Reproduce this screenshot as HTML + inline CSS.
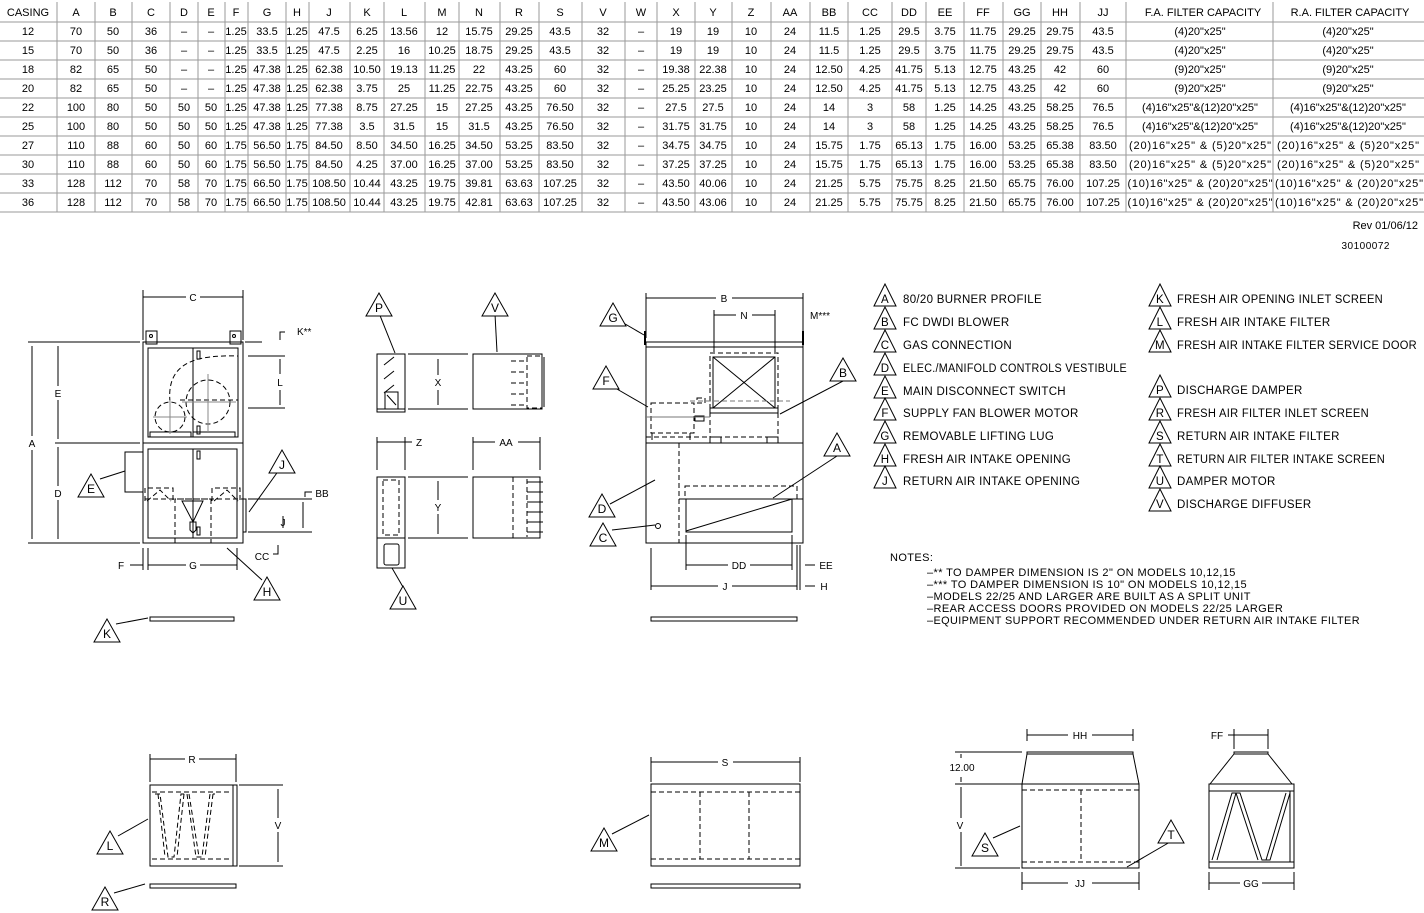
<!DOCTYPE html>
<html><head><meta charset="utf-8"><style>
html,body{margin:0;padding:0;background:#fff}
svg{display:block}
text{font-family:"Liberation Sans",sans-serif;fill:#000}
.t text{font-size:11px;text-anchor:middle}
.lg text{font-size:11.5px;letter-spacing:0.3px}
.nt text{font-size:11px;letter-spacing:0.4px}
.d{stroke-dasharray:5 3}
.lab{font-size:10px;text-anchor:middle}
</style></head><body>
<svg width="1424" height="913" viewBox="0 0 1424 913" xmlns="http://www.w3.org/2000/svg">
<defs>
<g id="tri"><polygon points="0,-13 -13,10 13,10" fill="#fff" stroke="#000" stroke-width="1"/></g>
<g id="trs"><polygon points="0,-12 -11,10 11,10" fill="#fff" stroke="#000" stroke-width="1"/></g>
</defs>
<!-- TABLE GRID -->
<g stroke="#9a9a9a" stroke-width="1">
<line x1="0" y1="22" x2="1424" y2="22"/><line x1="0" y1="41" x2="1424" y2="41"/><line x1="0" y1="60" x2="1424" y2="60"/><line x1="0" y1="79" x2="1424" y2="79"/><line x1="0" y1="98" x2="1424" y2="98"/><line x1="0" y1="117" x2="1424" y2="117"/><line x1="0" y1="136" x2="1424" y2="136"/><line x1="0" y1="155" x2="1424" y2="155"/><line x1="0" y1="174" x2="1424" y2="174"/><line x1="0" y1="193" x2="1424" y2="193"/><line x1="0" y1="212" x2="1424" y2="212"/>
</g>
<g stroke="#9a9a9a" stroke-width="1">
<line x1="57" y1="2" x2="57" y2="212"/><line x1="95" y1="2" x2="95" y2="212"/><line x1="132" y1="2" x2="132" y2="212"/><line x1="170" y1="2" x2="170" y2="212"/><line x1="198" y1="2" x2="198" y2="212"/><line x1="225" y1="2" x2="225" y2="212"/><line x1="248" y1="2" x2="248" y2="212"/><line x1="286" y1="2" x2="286" y2="212"/><line x1="309" y1="2" x2="309" y2="212"/><line x1="350" y1="2" x2="350" y2="212"/><line x1="384" y1="2" x2="384" y2="212"/><line x1="425" y1="2" x2="425" y2="212"/><line x1="459" y1="2" x2="459" y2="212"/><line x1="500" y1="2" x2="500" y2="212"/><line x1="539" y1="2" x2="539" y2="212"/><line x1="582" y1="2" x2="582" y2="212"/><line x1="625" y1="2" x2="625" y2="212"/><line x1="657" y1="2" x2="657" y2="212"/><line x1="695" y1="2" x2="695" y2="212"/><line x1="732" y1="2" x2="732" y2="212"/><line x1="771" y1="2" x2="771" y2="212"/><line x1="810" y1="2" x2="810" y2="212"/><line x1="848" y1="2" x2="848" y2="212"/><line x1="892" y1="2" x2="892" y2="212"/><line x1="926" y1="2" x2="926" y2="212"/><line x1="964" y1="2" x2="964" y2="212"/><line x1="1003" y1="2" x2="1003" y2="212"/><line x1="1041" y1="2" x2="1041" y2="212"/><line x1="1080" y1="2" x2="1080" y2="212"/><line x1="1126" y1="2" x2="1126" y2="212"/><line x1="1273" y1="2" x2="1273" y2="212"/>
</g>
<g class="t">
<text x="28" y="16">CASING</text><text x="76" y="16">A</text><text x="113" y="16">B</text><text x="151" y="16">C</text><text x="184" y="16">D</text><text x="211" y="16">E</text><text x="236" y="16">F</text><text x="267" y="16">G</text><text x="297" y="16">H</text><text x="329" y="16">J</text><text x="367" y="16">K</text><text x="404" y="16">L</text><text x="442" y="16">M</text><text x="479" y="16">N</text><text x="519" y="16">R</text><text x="560" y="16">S</text><text x="603" y="16">V</text><text x="641" y="16">W</text><text x="676" y="16">X</text><text x="713" y="16">Y</text><text x="751" y="16">Z</text><text x="790" y="16">AA</text><text x="829" y="16">BB</text><text x="870" y="16">CC</text><text x="909" y="16">DD</text><text x="945" y="16">EE</text><text x="983" y="16">FF</text><text x="1022" y="16">GG</text><text x="1060" y="16">HH</text><text x="1103" y="16">JJ</text><text x="1203" y="16">F.A.  FILTER  CAPACITY</text><text x="1350" y="16">R.A.  FILTER  CAPACITY</text>

<text x="28" y="35">12</text><text x="76" y="35">70</text><text x="113" y="35">50</text><text x="151" y="35">36</text><text x="184" y="35">–</text><text x="211" y="35">–</text><text x="236" y="35">1.25</text><text x="267" y="35">33.5</text><text x="297" y="35">1.25</text><text x="329" y="35">47.5</text><text x="367" y="35">6.25</text><text x="404" y="35">13.56</text><text x="442" y="35">12</text><text x="479" y="35">15.75</text><text x="519" y="35">29.25</text><text x="560" y="35">43.5</text><text x="603" y="35">32</text><text x="641" y="35">–</text><text x="676" y="35">19</text><text x="713" y="35">19</text><text x="751" y="35">10</text><text x="790" y="35">24</text><text x="829" y="35">11.5</text><text x="870" y="35">1.25</text><text x="909" y="35">29.5</text><text x="945" y="35">3.75</text><text x="983" y="35">11.75</text><text x="1022" y="35">29.25</text><text x="1060" y="35">29.75</text><text x="1103" y="35">43.5</text><text x="1200" y="35">(4)20"x25"</text><text x="1348" y="35">(4)20"x25"</text>

<text x="28" y="54">15</text><text x="76" y="54">70</text><text x="113" y="54">50</text><text x="151" y="54">36</text><text x="184" y="54">–</text><text x="211" y="54">–</text><text x="236" y="54">1.25</text><text x="267" y="54">33.5</text><text x="297" y="54">1.25</text><text x="329" y="54">47.5</text><text x="367" y="54">2.25</text><text x="404" y="54">16</text><text x="442" y="54">10.25</text><text x="479" y="54">18.75</text><text x="519" y="54">29.25</text><text x="560" y="54">43.5</text><text x="603" y="54">32</text><text x="641" y="54">–</text><text x="676" y="54">19</text><text x="713" y="54">19</text><text x="751" y="54">10</text><text x="790" y="54">24</text><text x="829" y="54">11.5</text><text x="870" y="54">1.25</text><text x="909" y="54">29.5</text><text x="945" y="54">3.75</text><text x="983" y="54">11.75</text><text x="1022" y="54">29.25</text><text x="1060" y="54">29.75</text><text x="1103" y="54">43.5</text><text x="1200" y="54">(4)20"x25"</text><text x="1348" y="54">(4)20"x25"</text>

<text x="28" y="73">18</text><text x="76" y="73">82</text><text x="113" y="73">65</text><text x="151" y="73">50</text><text x="184" y="73">–</text><text x="211" y="73">–</text><text x="236" y="73">1.25</text><text x="267" y="73">47.38</text><text x="297" y="73">1.25</text><text x="329" y="73">62.38</text><text x="367" y="73">10.50</text><text x="404" y="73">19.13</text><text x="442" y="73">11.25</text><text x="479" y="73">22</text><text x="519" y="73">43.25</text><text x="560" y="73">60</text><text x="603" y="73">32</text><text x="641" y="73">–</text><text x="676" y="73">19.38</text><text x="713" y="73">22.38</text><text x="751" y="73">10</text><text x="790" y="73">24</text><text x="829" y="73">12.50</text><text x="870" y="73">4.25</text><text x="909" y="73">41.75</text><text x="945" y="73">5.13</text><text x="983" y="73">12.75</text><text x="1022" y="73">43.25</text><text x="1060" y="73">42</text><text x="1103" y="73">60</text><text x="1200" y="73">(9)20"x25"</text><text x="1348" y="73">(9)20"x25"</text>

<text x="28" y="92">20</text><text x="76" y="92">82</text><text x="113" y="92">65</text><text x="151" y="92">50</text><text x="184" y="92">–</text><text x="211" y="92">–</text><text x="236" y="92">1.25</text><text x="267" y="92">47.38</text><text x="297" y="92">1.25</text><text x="329" y="92">62.38</text><text x="367" y="92">3.75</text><text x="404" y="92">25</text><text x="442" y="92">11.25</text><text x="479" y="92">22.75</text><text x="519" y="92">43.25</text><text x="560" y="92">60</text><text x="603" y="92">32</text><text x="641" y="92">–</text><text x="676" y="92">25.25</text><text x="713" y="92">23.25</text><text x="751" y="92">10</text><text x="790" y="92">24</text><text x="829" y="92">12.50</text><text x="870" y="92">4.25</text><text x="909" y="92">41.75</text><text x="945" y="92">5.13</text><text x="983" y="92">12.75</text><text x="1022" y="92">43.25</text><text x="1060" y="92">42</text><text x="1103" y="92">60</text><text x="1200" y="92">(9)20"x25"</text><text x="1348" y="92">(9)20"x25"</text>

<text x="28" y="111">22</text><text x="76" y="111">100</text><text x="113" y="111">80</text><text x="151" y="111">50</text><text x="184" y="111">50</text><text x="211" y="111">50</text><text x="236" y="111">1.25</text><text x="267" y="111">47.38</text><text x="297" y="111">1.25</text><text x="329" y="111">77.38</text><text x="367" y="111">8.75</text><text x="404" y="111">27.25</text><text x="442" y="111">15</text><text x="479" y="111">27.25</text><text x="519" y="111">43.25</text><text x="560" y="111">76.50</text><text x="603" y="111">32</text><text x="641" y="111">–</text><text x="676" y="111">27.5</text><text x="713" y="111">27.5</text><text x="751" y="111">10</text><text x="790" y="111">24</text><text x="829" y="111">14</text><text x="870" y="111">3</text><text x="909" y="111">58</text><text x="945" y="111">1.25</text><text x="983" y="111">14.25</text><text x="1022" y="111">43.25</text><text x="1060" y="111">58.25</text><text x="1103" y="111">76.5</text><text x="1200" y="111">(4)16"x25"&amp;(12)20"x25"</text><text x="1348" y="111">(4)16"x25"&amp;(12)20"x25"</text>

<text x="28" y="130">25</text><text x="76" y="130">100</text><text x="113" y="130">80</text><text x="151" y="130">50</text><text x="184" y="130">50</text><text x="211" y="130">50</text><text x="236" y="130">1.25</text><text x="267" y="130">47.38</text><text x="297" y="130">1.25</text><text x="329" y="130">77.38</text><text x="367" y="130">3.5</text><text x="404" y="130">31.5</text><text x="442" y="130">15</text><text x="479" y="130">31.5</text><text x="519" y="130">43.25</text><text x="560" y="130">76.50</text><text x="603" y="130">32</text><text x="641" y="130">–</text><text x="676" y="130">31.75</text><text x="713" y="130">31.75</text><text x="751" y="130">10</text><text x="790" y="130">24</text><text x="829" y="130">14</text><text x="870" y="130">3</text><text x="909" y="130">58</text><text x="945" y="130">1.25</text><text x="983" y="130">14.25</text><text x="1022" y="130">43.25</text><text x="1060" y="130">58.25</text><text x="1103" y="130">76.5</text><text x="1200" y="130">(4)16"x25"&amp;(12)20"x25"</text><text x="1348" y="130">(4)16"x25"&amp;(12)20"x25"</text>

<text x="28" y="149">27</text><text x="76" y="149">110</text><text x="113" y="149">88</text><text x="151" y="149">60</text><text x="184" y="149">50</text><text x="211" y="149">60</text><text x="236" y="149">1.75</text><text x="267" y="149">56.50</text><text x="297" y="149">1.75</text><text x="329" y="149">84.50</text><text x="367" y="149">8.50</text><text x="404" y="149">34.50</text><text x="442" y="149">16.25</text><text x="479" y="149">34.50</text><text x="519" y="149">53.25</text><text x="560" y="149">83.50</text><text x="603" y="149">32</text><text x="641" y="149">–</text><text x="676" y="149">34.75</text><text x="713" y="149">34.75</text><text x="751" y="149">10</text><text x="790" y="149">24</text><text x="829" y="149">15.75</text><text x="870" y="149">1.75</text><text x="909" y="149">65.13</text><text x="945" y="149">1.75</text><text x="983" y="149">16.00</text><text x="1022" y="149">53.25</text><text x="1060" y="149">65.38</text><text x="1103" y="149">83.50</text><text x="1200" y="149" textLength="142">(20)16"x25" &amp; (5)20"x25"</text><text x="1348" y="149" textLength="142">(20)16"x25" &amp; (5)20"x25"</text>

<text x="28" y="168">30</text><text x="76" y="168">110</text><text x="113" y="168">88</text><text x="151" y="168">60</text><text x="184" y="168">50</text><text x="211" y="168">60</text><text x="236" y="168">1.75</text><text x="267" y="168">56.50</text><text x="297" y="168">1.75</text><text x="329" y="168">84.50</text><text x="367" y="168">4.25</text><text x="404" y="168">37.00</text><text x="442" y="168">16.25</text><text x="479" y="168">37.00</text><text x="519" y="168">53.25</text><text x="560" y="168">83.50</text><text x="603" y="168">32</text><text x="641" y="168">–</text><text x="676" y="168">37.25</text><text x="713" y="168">37.25</text><text x="751" y="168">10</text><text x="790" y="168">24</text><text x="829" y="168">15.75</text><text x="870" y="168">1.75</text><text x="909" y="168">65.13</text><text x="945" y="168">1.75</text><text x="983" y="168">16.00</text><text x="1022" y="168">53.25</text><text x="1060" y="168">65.38</text><text x="1103" y="168">83.50</text><text x="1200" y="168" textLength="142">(20)16"x25" &amp; (5)20"x25"</text><text x="1348" y="168" textLength="142">(20)16"x25" &amp; (5)20"x25"</text>

<text x="28" y="187">33</text><text x="76" y="187">128</text><text x="113" y="187">112</text><text x="151" y="187">70</text><text x="184" y="187">58</text><text x="211" y="187">70</text><text x="236" y="187">1.75</text><text x="267" y="187">66.50</text><text x="297" y="187">1.75</text><text x="329" y="187">108.50</text><text x="367" y="187">10.44</text><text x="404" y="187">43.25</text><text x="442" y="187">19.75</text><text x="479" y="187">39.81</text><text x="519" y="187">63.63</text><text x="560" y="187">107.25</text><text x="603" y="187">32</text><text x="641" y="187">–</text><text x="676" y="187">43.50</text><text x="713" y="187">40.06</text><text x="751" y="187">10</text><text x="790" y="187">24</text><text x="829" y="187">21.25</text><text x="870" y="187">5.75</text><text x="909" y="187">75.75</text><text x="945" y="187">8.25</text><text x="983" y="187">21.50</text><text x="1022" y="187">65.75</text><text x="1060" y="187">76.00</text><text x="1103" y="187">107.25</text><text x="1200" y="187" textLength="145">(10)16"x25" &amp; (20)20"x25"</text><text x="1349" y="187" textLength="148">(10)16"x25" &amp; (20)20"x25"</text>

<text x="28" y="206">36</text><text x="76" y="206">128</text><text x="113" y="206">112</text><text x="151" y="206">70</text><text x="184" y="206">58</text><text x="211" y="206">70</text><text x="236" y="206">1.75</text><text x="267" y="206">66.50</text><text x="297" y="206">1.75</text><text x="329" y="206">108.50</text><text x="367" y="206">10.44</text><text x="404" y="206">43.25</text><text x="442" y="206">19.75</text><text x="479" y="206">42.81</text><text x="519" y="206">63.63</text><text x="560" y="206">107.25</text><text x="603" y="206">32</text><text x="641" y="206">–</text><text x="676" y="206">43.50</text><text x="713" y="206">43.06</text><text x="751" y="206">10</text><text x="790" y="206">24</text><text x="829" y="206">21.25</text><text x="870" y="206">5.75</text><text x="909" y="206">75.75</text><text x="945" y="206">8.25</text><text x="983" y="206">21.50</text><text x="1022" y="206">65.75</text><text x="1060" y="206">76.00</text><text x="1103" y="206">107.25</text><text x="1200" y="206" textLength="145">(10)16"x25" &amp; (20)20"x25"</text><text x="1349" y="206" textLength="148">(10)16"x25" &amp; (20)20"x25"</text>
</g>
<text x="1418" y="229" font-size="11" text-anchor="end">Rev  01/06/12</text>
<text x="1390" y="249" font-size="10" text-anchor="end" letter-spacing="0.5">30100072</text>

<!-- FRONT VIEW (left) -->
<g fill="none" stroke="#000" stroke-width="1">
<rect x="143" y="342" width="100" height="201"/>
<line x1="143" y1="443" x2="243" y2="443"/>
<rect x="148" y="348" width="90" height="89"/>
<rect x="148" y="449" width="89" height="89"/>
<line x1="193" y1="348" x2="193" y2="437"/><line x1="193" y1="449" x2="193" y2="538"/>
<rect x="146" y="331" width="11" height="13"/><rect x="230" y="331" width="11" height="13"/>
<circle cx="151" cy="336" r="1.5"/><circle cx="234" cy="336" r="1.5"/>
<rect x="197" y="351" width="3" height="8"/><rect x="197" y="426" width="3" height="8"/><rect x="197" y="451" width="3" height="8"/><rect x="197" y="527" width="3" height="8"/>
<circle cx="208" cy="402" r="22" class="d"/><circle cx="170" cy="417" r="15" class="d"/>
<path class="d" d="M170 402 C166 360 200 355 238 356"/>
<path class="d" d="M238 358 L238 406"/>
<rect x="150" y="432" width="41" height="5"/><rect x="193" y="432" width="42" height="5"/>
<line x1="180" y1="400" x2="238" y2="400" class="d"/>
<g stroke="#888"><line x1="182" y1="402" x2="236" y2="402"/><line x1="208" y1="374" x2="208" y2="432"/><line x1="153" y1="417" x2="187" y2="417"/><line x1="170" y1="400" x2="170" y2="434"/></g>
<rect x="125" y="452" width="18" height="40"/>
<path class="d" d="M145 501 L145 488 L173 488 L173 501 M147 501 L160 490 L171 501"/>
<path class="d" d="M212 501 L212 488 L240 488 L240 501 M214 501 L227 490 L238 501"/>
<line x1="145" y1="499" x2="243" y2="499" class="d"/>
<path class="d" d="M175 543 L175 499 L211 499 L211 543"/>
<path d="M182 501 L203 501 L193 522 Z M190 522 L196 522 L196 530 L193 533 L190 530 Z"/>
<rect x="243" y="499" width="3" height="33"/>
<line x1="143" y1="290" x2="143" y2="340"/><line x1="243" y1="290" x2="243" y2="340"/>
<line x1="143" y1="297" x2="186" y2="297"/><line x1="200" y1="297" x2="243" y2="297"/>
<line x1="28" y1="342" x2="140" y2="342"/><line x1="28" y1="543" x2="140" y2="543"/><line x1="55" y1="443" x2="140" y2="443"/>
<line x1="32" y1="346" x2="32" y2="436"/><line x1="32" y1="450" x2="32" y2="539"/>
<line x1="58" y1="346" x2="58" y2="386"/><line x1="58" y1="400" x2="58" y2="439"/>
<line x1="58" y1="447" x2="58" y2="486"/><line x1="58" y1="500" x2="58" y2="539"/>
<line x1="245" y1="342" x2="262" y2="342"/>
<path d="M280 340 L280 332 L285 332"/>
<line x1="248" y1="356" x2="285" y2="356"/><line x1="248" y1="408" x2="285" y2="408"/>
<line x1="280" y1="359" x2="280" y2="374"/><line x1="280" y1="390" x2="280" y2="405"/>
<line x1="248" y1="499" x2="312" y2="499"/><path d="M305 497 L305 492 L312 492"/>
<line x1="248" y1="532" x2="312" y2="532"/>
<line x1="303" y1="502" x2="303" y2="528"/><line x1="283" y1="516" x2="283" y2="528"/>
<path d="M278 545 L278 554 L273 554"/>
<line x1="143" y1="548" x2="143" y2="570"/><line x1="148" y1="548" x2="148" y2="570"/><line x1="237" y1="548" x2="237" y2="570"/>
<line x1="130" y1="565" x2="143" y2="565"/><line x1="148" y1="565" x2="186" y2="565"/><line x1="200" y1="565" x2="237" y2="565"/>
<rect x="150" y="617" width="84" height="4"/>
<line x1="100" y1="479" x2="125" y2="471"/><line x1="279" y1="470" x2="249" y2="512"/><line x1="262" y1="580" x2="227" y2="548"/><line x1="116" y1="624" x2="148" y2="618"/>
</g>
<g font-size="10" text-anchor="middle">
<text x="193" y="301">C</text><text x="297" y="335" text-anchor="start">K**</text><text x="280" y="386">L</text>
<text x="32" y="447">A</text><text x="58" y="397">E</text><text x="58" y="497">D</text>
<text x="322" y="497">BB</text><text x="283" y="526">J</text><text x="262" y="560">CC</text>
<text x="121" y="569">F</text><text x="193" y="569">G</text>
</g>
<g font-size="12" text-anchor="middle">
<use href="#tri" x="91" y="487"/><text x="91" y="493">E</text>
<use href="#tri" x="282" y="463"/><text x="282" y="469">J</text>
<use href="#tri" x="267" y="590"/><text x="267" y="596">H</text>
<use href="#tri" x="107" y="632"/><text x="107" y="638">K</text>
</g>

<!-- DAMPER / DIFFUSER VIEWS -->
<g fill="none" stroke="#000" stroke-width="1">
<rect x="377" y="354" width="28" height="58"/><line x1="377" y1="409" x2="405" y2="409"/>
<path d="M384 365 L394 357 M384 379 L394 371 M384 393 L394 385"/>
<rect x="385" y="392" width="13" height="17"/><line x1="387" y1="395" x2="396" y2="405"/>
<line x1="408" y1="354" x2="468" y2="354"/><line x1="408" y1="409" x2="468" y2="409"/>
<line x1="438" y1="359" x2="438" y2="375"/><line x1="438" y1="390" x2="438" y2="405"/>
<rect x="473" y="354" width="69" height="55"/>
<rect x="527" y="356" width="15" height="52" class="d"/><line x1="544" y1="357" x2="544" y2="407"/>
<path class="d" d="M511 361 L527 361 M511 372 L527 372 M511 383 L527 383 M511 394 L527 394 M511 405 L527 405"/>
<line x1="377" y1="437" x2="377" y2="470"/><line x1="405" y1="437" x2="405" y2="470"/>
<line x1="377" y1="442" x2="412" y2="442"/>
<line x1="473" y1="437" x2="473" y2="470"/><line x1="540" y1="437" x2="540" y2="470"/>
<line x1="473" y1="442" x2="495" y2="442"/><line x1="518" y1="442" x2="540" y2="442"/>
<rect x="377" y="477" width="28" height="91"/><line x1="377" y1="538" x2="405" y2="538"/>
<rect x="383" y="480" width="16" height="55" class="d"/>
<rect x="384" y="544" width="15" height="21" rx="2"/>
<line x1="408" y1="477" x2="468" y2="477"/><line x1="408" y1="538" x2="468" y2="538"/>
<line x1="438" y1="481" x2="438" y2="500"/><line x1="438" y1="514" x2="438" y2="534"/>
<rect x="473" y="477" width="67" height="61"/>
<line x1="513" y1="477" x2="513" y2="538" class="d"/>
<path class="d" d="M527 479 L527 537"/>
<path d="M527 482 L543 482 M527 492 L543 492 M527 502 L543 502 M527 512 L543 512 M527 522 L543 522 M527 532 L543 532"/>
<line x1="379" y1="313" x2="395" y2="353"/><line x1="495" y1="314" x2="497" y2="352"/><line x1="403" y1="587" x2="392" y2="568"/>
</g>
<g font-size="10" text-anchor="middle">
<text x="438" y="386">X</text><text x="419" y="446">Z</text><text x="506" y="446">AA</text><text x="438" y="511">Y</text>
</g>
<g font-size="12" text-anchor="middle">
<use href="#tri" x="379" y="306"/><text x="379" y="312">P</text>
<use href="#tri" x="495" y="306"/><text x="495" y="312">V</text>
<use href="#tri" x="403" y="599"/><text x="403" y="605">U</text>
</g>

<!-- SIDE VIEW (right) -->
<g fill="none" stroke="#000" stroke-width="1">
<rect x="646" y="347" width="157" height="196"/>
<rect x="646" y="342" width="157" height="5"/>
<line x1="645" y1="331" x2="645" y2="345" stroke-width="2"/><line x1="803" y1="331" x2="803" y2="345" stroke-width="2"/>
<line x1="646" y1="443" x2="803" y2="443"/>
<line x1="646" y1="293" x2="646" y2="338"/><line x1="803" y1="293" x2="803" y2="338"/>
<line x1="646" y1="298" x2="716" y2="298"/><line x1="732" y1="298" x2="803" y2="298"/>
<line x1="714" y1="310" x2="714" y2="352"/><line x1="775" y1="310" x2="775" y2="352"/>
<line x1="714" y1="315" x2="736" y2="315"/><line x1="752" y1="315" x2="775" y2="315"/>
<rect x="710" y="353" width="68" height="84" class="d"/>
<rect x="713" y="357" width="62" height="51"/>
<line x1="713" y1="357" x2="775" y2="408"/><line x1="775" y1="357" x2="713" y2="408"/>
<rect x="710" y="408" width="68" height="5"/>
<rect x="710" y="437" width="11" height="6"/><rect x="767" y="437" width="11" height="6"/>
<rect x="651" y="403" width="43" height="30" class="d"/>
<rect x="697" y="398" width="8" height="5" class="d"/><rect x="695" y="416" width="9" height="5"/>
<line x1="652" y1="433" x2="652" y2="440"/><line x1="690" y1="433" x2="690" y2="440"/>
<line x1="646" y1="437" x2="710" y2="437" class="d"/>
<line x1="690" y1="401" x2="790" y2="401" stroke="#777" class="d"/>
<line x1="645" y1="417" x2="710" y2="417" stroke="#777"/>
<line x1="679" y1="443" x2="679" y2="543" class="d"/>
<rect x="685" y="486" width="112" height="13" class="d"/>
<line x1="679" y1="499" x2="803" y2="499"/>
<rect x="686" y="499" width="106" height="33"/>
<line x1="686" y1="531" x2="792" y2="499"/>
<circle cx="658" cy="526" r="2.5"/>
<line x1="651" y1="548" x2="651" y2="590"/><line x1="686" y1="535" x2="686" y2="570"/><line x1="792" y1="535" x2="792" y2="570"/>
<line x1="797" y1="545" x2="797" y2="590"/><line x1="800" y1="545" x2="800" y2="590"/>
<line x1="686" y1="565" x2="728" y2="565"/><line x1="750" y1="565" x2="792" y2="565"/>
<line x1="651" y1="586" x2="718" y2="586"/><line x1="732" y1="586" x2="797" y2="586"/>
<line x1="805" y1="565" x2="815" y2="565"/><line x1="805" y1="586" x2="815" y2="586"/>
<rect x="651" y="617" width="146" height="4"/>
<line x1="620" y1="321" x2="644" y2="335"/><line x1="610" y1="385" x2="648" y2="407"/>
<line x1="843" y1="381" x2="780" y2="414"/><line x1="837" y1="456" x2="773" y2="498"/>
<line x1="610" y1="504" x2="655" y2="480"/><line x1="612" y1="530" x2="655" y2="525"/>
</g>
<g font-size="10" text-anchor="middle">
<text x="724" y="302">B</text><text x="744" y="319">N</text><text x="810" y="319" text-anchor="start">M***</text>
<text x="739" y="569">DD</text><text x="725" y="590">J</text><text x="826" y="569">EE</text><text x="824" y="590">H</text>
</g>
<g font-size="12" text-anchor="middle">
<use href="#tri" x="613" y="316"/><text x="613" y="322">G</text>
<use href="#tri" x="606" y="379"/><text x="606" y="385">F</text>
<use href="#tri" x="843" y="371"/><text x="843" y="377">B</text>
<use href="#tri" x="837" y="446"/><text x="837" y="452">A</text>
<use href="#tri" x="602" y="507"/><text x="602" y="513">D</text>
<use href="#tri" x="603" y="536"/><text x="603" y="542">C</text>
</g>

<!-- LEGEND -->
<g class="lg">
<g text-anchor="middle" font-size="11">
<use href="#trs" x="885" y="296"/><text x="885" y="303">A</text>
<use href="#trs" x="885" y="319"/><text x="885" y="326">B</text>
<use href="#trs" x="885" y="342"/><text x="885" y="349">C</text>
<use href="#trs" x="885" y="365"/><text x="885" y="372">D</text>
<use href="#trs" x="885" y="388"/><text x="885" y="395">E</text>
<use href="#trs" x="885" y="410"/><text x="885" y="417">F</text>
<use href="#trs" x="885" y="433"/><text x="885" y="440">G</text>
<use href="#trs" x="885" y="456"/><text x="885" y="463">H</text>
<use href="#trs" x="885" y="478"/><text x="885" y="485">J</text>
<use href="#trs" x="1160" y="296"/><text x="1160" y="303">K</text>
<use href="#trs" x="1160" y="319"/><text x="1160" y="326">L</text>
<use href="#trs" x="1160" y="342"/><text x="1160" y="349">M</text>
<use href="#trs" x="1160" y="387"/><text x="1160" y="394">P</text>
<use href="#trs" x="1160" y="410"/><text x="1160" y="417">R</text>
<use href="#trs" x="1160" y="433"/><text x="1160" y="440">S</text>
<use href="#trs" x="1160" y="456"/><text x="1160" y="463">T</text>
<use href="#trs" x="1160" y="478"/><text x="1160" y="485">U</text>
<use href="#trs" x="1160" y="501"/><text x="1160" y="508">V</text>
</g>
<text x="903" y="303">80/20  BURNER  PROFILE</text>
<text x="903" y="326">FC  DWDI  BLOWER</text>
<text x="903" y="349">GAS  CONNECTION</text>
<text x="903" y="372" textLength="224" lengthAdjust="spacingAndGlyphs">ELEC./MANIFOLD  CONTROLS  VESTIBULE</text>
<text x="903" y="395">MAIN  DISCONNECT  SWITCH</text>
<text x="903" y="417">SUPPLY  FAN  BLOWER  MOTOR</text>
<text x="903" y="440">REMOVABLE  LIFTING  LUG</text>
<text x="903" y="463">FRESH  AIR  INTAKE  OPENING</text>
<text x="903" y="485">RETURN  AIR  INTAKE  OPENING</text>
<text x="1177" y="303" textLength="206" lengthAdjust="spacingAndGlyphs">FRESH  AIR  OPENING  INLET  SCREEN</text>
<text x="1177" y="326">FRESH  AIR  INTAKE  FILTER</text>
<text x="1177" y="349" textLength="240" lengthAdjust="spacingAndGlyphs">FRESH  AIR  INTAKE  FILTER  SERVICE  DOOR</text>
<text x="1177" y="394">DISCHARGE  DAMPER</text>
<text x="1177" y="417" textLength="192" lengthAdjust="spacingAndGlyphs">FRESH  AIR  FILTER  INLET  SCREEN</text>
<text x="1177" y="440">RETURN  AIR  INTAKE  FILTER</text>
<text x="1177" y="463" textLength="208" lengthAdjust="spacingAndGlyphs">RETURN  AIR  FILTER  INTAKE  SCREEN</text>
<text x="1177" y="485">DAMPER  MOTOR</text>
<text x="1177" y="508">DISCHARGE  DIFFUSER</text>
</g>
<g class="nt">
<text x="890" y="561">NOTES:</text>
<text x="927" y="576">–**   TO  DAMPER  DIMENSION  IS  2"  ON  MODELS  10,12,15</text>
<text x="927" y="588">–*** TO  DAMPER  DIMENSION  IS  10"  ON  MODELS  10,12,15</text>
<text x="927" y="600">–MODELS  22/25  AND  LARGER  ARE  BUILT  AS  A  SPLIT  UNIT</text>
<text x="927" y="612">–REAR  ACCESS  DOORS  PROVIDED  ON  MODELS  22/25  LARGER</text>
<text x="927" y="624" textLength="433" lengthAdjust="spacingAndGlyphs">–EQUIPMENT  SUPPORT  RECOMMENDED  UNDER  RETURN  AIR  INTAKE  FILTER</text>
</g>

<!-- BOTTOM VIEWS -->
<g fill="none" stroke="#000" stroke-width="1">
<line x1="150" y1="754" x2="150" y2="782"/><line x1="236" y1="754" x2="236" y2="782"/>
<line x1="150" y1="759" x2="185" y2="759"/><line x1="199" y1="759" x2="236" y2="759"/>
<rect x="150" y="785" width="87" height="81"/><line x1="233" y1="785" x2="233" y2="866"/>
<line x1="152" y1="792" x2="231" y2="792" class="d"/><line x1="152" y1="859" x2="231" y2="859" class="d"/>
<path class="d" d="M155 794 L160 794 L168 857 L174 857 L181 794 L187 794 L196 857 L202 857 L210 794 L215 794"/>
<path class="d" d="M158 794 L165 857 M184 794 L177 857 M189 794 L199 857 M213 794 L205 857"/>
<line x1="239" y1="785" x2="283" y2="785"/><line x1="239" y1="866" x2="283" y2="866"/>
<line x1="278" y1="789" x2="278" y2="818"/><line x1="278" y1="832" x2="278" y2="862"/>
<rect x="150" y="884" width="86" height="4"/>
<line x1="118" y1="836" x2="148" y2="819"/><line x1="114" y1="893" x2="145" y2="884"/>
<line x1="651" y1="757" x2="651" y2="782"/><line x1="800" y1="757" x2="800" y2="782"/>
<line x1="651" y1="762" x2="718" y2="762"/><line x1="733" y1="762" x2="800" y2="762"/>
<rect x="651" y="784" width="149" height="82"/>
<line x1="651" y1="792" x2="800" y2="792" class="d"/><line x1="651" y1="859" x2="800" y2="859" class="d"/>
<line x1="700" y1="792" x2="700" y2="859" class="d"/><line x1="749" y1="792" x2="749" y2="859" class="d"/>
<rect x="651" y="884" width="149" height="4"/>
<line x1="612" y1="834" x2="649" y2="815"/>
<line x1="1027" y1="729" x2="1027" y2="741"/><line x1="1133" y1="729" x2="1133" y2="741"/>
<line x1="1027" y1="735" x2="1068" y2="735"/><line x1="1092" y1="735" x2="1133" y2="735"/>
<rect x="1027" y="752" width="106" height="2"/>
<line x1="1027" y1="754" x2="1022" y2="784"/><line x1="1133" y1="754" x2="1139" y2="784"/>
<line x1="955" y1="752" x2="1022" y2="752"/>
<line x1="955" y1="784" x2="1022" y2="784"/><line x1="955" y1="868" x2="1020" y2="868"/>
<rect x="1022" y="784" width="117" height="84"/>
<line x1="1022" y1="790" x2="1139" y2="790" class="d"/><line x1="1022" y1="862" x2="1139" y2="862" class="d"/>
<line x1="1081" y1="790" x2="1081" y2="862" class="d"/>
<line x1="961" y1="754" x2="961" y2="758"/><line x1="961" y1="777" x2="961" y2="782"/>
<line x1="961" y1="787" x2="961" y2="818"/><line x1="961" y1="832" x2="961" y2="866"/>
<line x1="1022" y1="872" x2="1022" y2="890"/><line x1="1139" y1="872" x2="1139" y2="890"/>
<line x1="1022" y1="883" x2="1068" y2="883"/><line x1="1092" y1="883" x2="1139" y2="883"/>
<line x1="993" y1="838" x2="1020" y2="826"/><line x1="1170" y1="842" x2="1127" y2="867"/>
<line x1="1234" y1="729" x2="1234" y2="749"/><line x1="1268" y1="729" x2="1268" y2="749"/>
<line x1="1228" y1="735" x2="1268" y2="735"/>
<rect x="1234" y="752" width="34" height="2"/>
<line x1="1234" y1="754" x2="1210" y2="784"/><line x1="1268" y1="754" x2="1292" y2="784"/>
<rect x="1209" y="784" width="85" height="84"/>
<line x1="1209" y1="791" x2="1294" y2="791"/><line x1="1209" y1="862" x2="1294" y2="862"/>
<line x1="1290" y1="791" x2="1290" y2="862"/>
<path d="M1212 860 L1232 793 L1240 793 L1262 860 L1270 860 L1290 793"/>
<path d="M1217 860 L1236 793 M1236 793 L1258 860 M1266 860 L1286 793"/>
<line x1="1209" y1="872" x2="1209" y2="890"/><line x1="1294" y1="872" x2="1294" y2="890"/>
<line x1="1209" y1="883" x2="1240" y2="883"/><line x1="1262" y1="883" x2="1294" y2="883"/>
</g>
<g font-size="10" text-anchor="middle">
<text x="192" y="763">R</text><text x="278" y="829">V</text><text x="725" y="766">S</text>
<text x="1080" y="739">HH</text><text x="962" y="771">12.00</text><text x="960" y="829">V</text><text x="1080" y="887">JJ</text>
<text x="1217" y="739">FF</text><text x="1251" y="887">GG</text>
</g>
<g font-size="12" text-anchor="middle">
<use href="#tri" x="110" y="844"/><text x="110" y="850">L</text>
<use href="#tri" x="105" y="900"/><text x="105" y="906">R</text>
<use href="#tri" x="604" y="841"/><text x="604" y="847">M</text>
<use href="#tri" x="985" y="846"/><text x="985" y="852">S</text>
<use href="#tri" x="1171" y="833"/><text x="1171" y="839">T</text>
</g>
</svg>
</body></html>
